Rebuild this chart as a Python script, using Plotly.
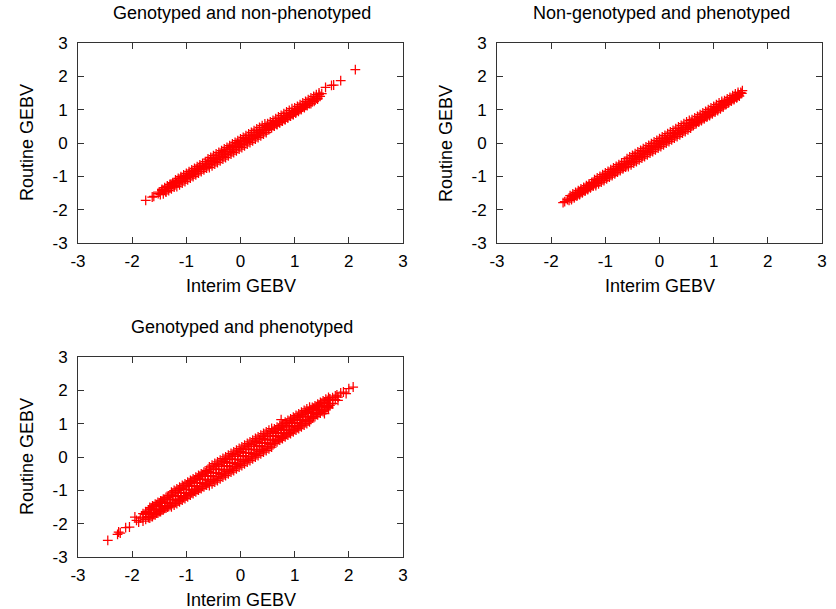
import plotly.graph_objects as go

# ---- data (Interim GEBV, Routine GEBV) ----
# Panel 1: genotyped and non-phenotyped
gnp_core = [
    (-1.75,-1.72),(-1.63,-1.62),(-1.6,-1.6),(-1.52,-1.52),(-1.5,-1.47),(-1.48,-1.55),(-1.45,-1.42),
    (-1.4,-1.38),(-1.38,-1.45),(-1.35,-1.3),(-1.33,-1.37),(-1.3,-1.25),(-1.28,-1.32),(-1.25,-1.22),
    (-1.22,-1.28),(-1.2,-1.15),(-1.18,-1.2),(-1.15,-1.12),(-1.12,-1.17),(-1.1,-1.05),(-1.08,-1.12),
    (-1.05,-1.02),(-1.02,-1.07),(-1.0,-0.97),(-0.98,-1.03),(-0.95,-0.92),(-0.93,-0.98),(-0.9,-0.87),
    (-0.88,-0.95),(-0.85,-0.82),(-0.83,-0.9),(-0.8,-0.78),(-0.78,-0.85),(-0.75,-0.72),(-0.73,-0.8),
    (-0.7,-0.66),(-0.68,-0.75),(-0.65,-0.62),(-0.63,-0.7),(-0.6,-0.56),(-0.58,-0.65),(-0.55,-0.52),
    (-0.53,-0.6),(-0.5,-0.46),(-0.48,-0.55),(-0.45,-0.42),(-0.43,-0.5),(-0.4,-0.36),(-0.38,-0.45),
    (-0.35,-0.3),(-0.33,-0.4),(-0.3,-0.26),(-0.28,-0.35),(-0.25,-0.2),(-0.23,-0.3),(-0.2,-0.15),
    (-0.18,-0.25),(-0.15,-0.1),(-0.13,-0.2),(-0.1,-0.06),(-0.08,-0.14),(-0.05,-0.01),(-0.03,-0.1),
    (0.0,0.04),(0.02,-0.05),(0.05,0.08),(0.07,0.0),(0.1,0.13),(0.12,0.05),(0.15,0.18),(0.17,0.1),
    (0.2,0.22),(0.22,0.14),(0.25,0.27),(0.27,0.19),(0.3,0.32),(0.32,0.24),(0.35,0.36),(0.37,0.29),
    (0.4,0.41),(0.42,0.33),(0.45,0.46),(0.47,0.38),(0.5,0.5),(0.52,0.43),(0.55,0.55),(0.57,0.48),
    (0.6,0.6),(0.62,0.52),(0.65,0.64),(0.67,0.57),(0.7,0.68),(0.72,0.62),(0.75,0.73),(0.77,0.66),
    (0.8,0.78),(0.82,0.71),(0.85,0.82),(0.87,0.76),(0.9,0.87),(0.92,0.81),(0.95,0.91),(0.97,0.86),
    (1.0,0.96),(1.02,0.9),(1.05,1.0),(1.07,0.95),(1.1,1.05),(1.12,1.0),(1.15,1.1),(1.18,1.06),
    (1.2,1.15),(1.23,1.12),(1.27,1.2),(1.3,1.18),(1.33,1.27),(1.36,1.25),(1.4,1.35),(1.42,1.32),
    (1.45,1.45),(1.47,1.4),(1.5,1.48),(1.57,1.67),(1.68,1.73),(1.72,1.74),(1.85,1.87),(2.12,2.2),
]
gnp_upper = [
    (-1.45,-1.39),(-1.4,-1.34),(-1.35,-1.29),(-1.3,-1.24),(-1.25,-1.19),(-1.2,-1.11),(-1.15,-1.06),
    (-1.1,-1.01),(-1.05,-0.96),(-1.0,-0.91),(-0.95,-0.86),(-0.9,-0.81),(-0.85,-0.76),(-0.8,-0.71),
    (-0.75,-0.66),(-0.7,-0.61),(-0.65,-0.56),(-0.6,-0.48),(-0.55,-0.43),(-0.5,-0.38),(-0.45,-0.33),
    (-0.4,-0.28),(-0.35,-0.23),(-0.3,-0.18),(-0.25,-0.13),(-0.2,-0.08),(-0.15,-0.03),(-0.1,0.02),
    (-0.05,0.07),(0.0,0.12),(0.05,0.17),(0.1,0.22),(0.15,0.27),(0.2,0.32),(0.25,0.37),(0.3,0.42),
    (0.35,0.47),(0.4,0.52),(0.45,0.57),(0.5,0.58),(0.55,0.63),(0.6,0.68),(0.65,0.73),(0.7,0.78),
    (0.75,0.83),(0.8,0.88),(0.85,0.93),(0.9,0.98),(0.95,1.03),(1.0,1.05),(1.05,1.1),(1.1,1.15),
    (1.15,1.2),(1.2,1.25),(1.25,1.3),(1.3,1.35),(1.35,1.4),(1.4,1.45),(1.45,1.5),
]
gnp_lower = [
    (-1.425,-1.525),(-1.375,-1.475),(-1.325,-1.425),(-1.275,-1.375),(-1.225,-1.325),(-1.175,-1.305),
    (-1.125,-1.255),(-1.075,-1.205),(-1.025,-1.155),(-0.975,-1.105),(-0.925,-1.055),(-0.875,-1.005),
    (-0.825,-0.955),(-0.775,-0.905),(-0.725,-0.855),(-0.675,-0.805),(-0.625,-0.755),(-0.575,-0.735),
    (-0.525,-0.685),(-0.475,-0.635),(-0.425,-0.585),(-0.375,-0.535),(-0.325,-0.485),(-0.275,-0.435),
    (-0.225,-0.385),(-0.175,-0.335),(-0.125,-0.285),(-0.075,-0.235),(-0.025,-0.185),(0.025,-0.135),
    (0.075,-0.085),(0.125,-0.035),(0.175,0.015),(0.225,0.065),(0.275,0.115),(0.325,0.165),
    (0.375,0.215),(0.425,0.265),(0.475,0.315),(0.525,0.405),(0.575,0.455),(0.625,0.505),
    (0.675,0.555),(0.725,0.605),(0.775,0.655),(0.825,0.705),(0.875,0.755),(0.925,0.805),
    (0.975,0.855),(1.025,0.935),(1.075,0.985),(1.125,1.035),(1.175,1.085),(1.225,1.135),
    (1.275,1.185),(1.325,1.235),(1.375,1.285),(1.425,1.335),
]

# Panel 2: non-genotyped and phenotyped
ngp_core = [
    (-1.78,-1.79),(-1.75,-1.76),(-1.7,-1.7),(-1.67,-1.72),(-1.65,-1.65),(-1.62,-1.66),(-1.6,-1.6),
    (-1.57,-1.61),(-1.55,-1.53),(-1.52,-1.56),(-1.5,-1.48),(-1.47,-1.52),(-1.45,-1.43),(-1.42,-1.47),
    (-1.4,-1.37),(-1.37,-1.42),(-1.35,-1.32),(-1.32,-1.37),(-1.3,-1.27),(-1.27,-1.32),(-1.25,-1.22),
    (-1.22,-1.27),(-1.2,-1.17),(-1.17,-1.22),(-1.15,-1.12),(-1.12,-1.17),(-1.1,-1.06),(-1.07,-1.12),
    (-1.05,-1.01),(-1.02,-1.07),(-1.0,-0.96),(-0.97,-1.02),(-0.95,-0.91),(-0.92,-0.98),(-0.9,-0.86),
    (-0.87,-0.93),(-0.85,-0.81),(-0.82,-0.88),(-0.8,-0.76),(-0.77,-0.83),(-0.75,-0.71),(-0.72,-0.78),
    (-0.7,-0.66),(-0.67,-0.74),(-0.65,-0.61),(-0.62,-0.69),(-0.6,-0.56),(-0.57,-0.64),(-0.55,-0.51),
    (-0.52,-0.59),(-0.5,-0.46),(-0.47,-0.54),(-0.45,-0.41),(-0.42,-0.49),(-0.4,-0.36),(-0.37,-0.44),
    (-0.35,-0.31),(-0.32,-0.39),(-0.3,-0.26),(-0.27,-0.34),(-0.25,-0.21),(-0.22,-0.29),(-0.2,-0.16),
    (-0.17,-0.24),(-0.15,-0.11),(-0.12,-0.19),(-0.1,-0.06),(-0.07,-0.14),(-0.05,-0.01),(-0.02,-0.09),
    (0.0,0.04),(0.03,-0.04),(0.05,0.09),(0.08,0.01),(0.1,0.13),(0.13,0.06),(0.15,0.18),(0.18,0.11),
    (0.2,0.23),(0.23,0.16),(0.25,0.28),(0.28,0.21),(0.3,0.32),(0.33,0.26),(0.35,0.37),(0.38,0.31),
    (0.4,0.42),(0.43,0.36),(0.45,0.47),(0.48,0.41),(0.5,0.52),(0.53,0.46),(0.55,0.57),(0.58,0.51),
    (0.6,0.61),(0.63,0.56),(0.65,0.66),(0.68,0.61),(0.7,0.71),(0.73,0.66),(0.75,0.76),(0.78,0.71),
    (0.8,0.81),(0.83,0.76),(0.85,0.86),(0.88,0.81),(0.9,0.91),(0.93,0.86),(0.95,0.96),(0.98,0.92),
    (1.0,1.01),(1.03,0.97),(1.05,1.06),(1.08,1.02),(1.1,1.11),(1.13,1.07),(1.15,1.16),(1.18,1.12),
    (1.2,1.21),(1.23,1.17),(1.25,1.26),(1.28,1.23),(1.3,1.31),(1.33,1.28),(1.35,1.36),(1.38,1.33),
    (1.4,1.41),(1.43,1.38),(1.45,1.46),(1.47,1.44),(1.5,1.52),(1.52,1.49),(1.53,1.57),
]
ngp_upper = [
    (-1.65,-1.58),(-1.6,-1.53),(-1.55,-1.48),(-1.5,-1.43),(-1.45,-1.38),(-1.4,-1.33),(-1.35,-1.28),
    (-1.3,-1.23),(-1.25,-1.18),(-1.2,-1.1),(-1.15,-1.05),(-1.1,-1.0),(-1.05,-0.95),(-1.0,-0.9),
    (-0.95,-0.85),(-0.9,-0.8),(-0.85,-0.75),(-0.8,-0.7),(-0.75,-0.65),(-0.7,-0.6),(-0.65,-0.55),
    (-0.6,-0.47),(-0.55,-0.42),(-0.5,-0.37),(-0.45,-0.32),(-0.4,-0.27),(-0.35,-0.22),(-0.3,-0.17),
    (-0.25,-0.12),(-0.2,-0.07),(-0.15,-0.02),(-0.1,0.03),(-0.05,0.08),(0.0,0.13),(0.05,0.18),
    (0.1,0.23),(0.15,0.28),(0.2,0.33),(0.25,0.38),(0.3,0.43),(0.35,0.48),(0.4,0.53),(0.45,0.58),
    (0.5,0.63),(0.55,0.68),(0.6,0.7),(0.65,0.75),(0.7,0.8),(0.75,0.85),(0.8,0.9),(0.85,0.95),
    (0.9,1.0),(0.95,1.05),(1.0,1.1),(1.05,1.15),(1.1,1.2),(1.15,1.25),(1.2,1.27),(1.25,1.32),
    (1.3,1.37),(1.35,1.42),(1.4,1.47),(1.45,1.52),
]
ngp_lower = [
    (-1.625,-1.695),(-1.575,-1.645),(-1.525,-1.595),(-1.475,-1.545),(-1.425,-1.495),(-1.375,-1.445),
    (-1.325,-1.395),(-1.275,-1.345),(-1.225,-1.295),(-1.175,-1.275),(-1.125,-1.225),(-1.075,-1.175),
    (-1.025,-1.125),(-0.975,-1.075),(-0.925,-1.025),(-0.875,-0.975),(-0.825,-0.925),(-0.775,-0.875),
    (-0.725,-0.825),(-0.675,-0.775),(-0.625,-0.725),(-0.575,-0.705),(-0.525,-0.655),(-0.475,-0.605),
    (-0.425,-0.555),(-0.375,-0.505),(-0.325,-0.455),(-0.275,-0.405),(-0.225,-0.355),(-0.175,-0.305),
    (-0.125,-0.255),(-0.075,-0.205),(-0.025,-0.155),(0.025,-0.105),(0.075,-0.055),(0.125,-0.005),
    (0.175,0.045),(0.225,0.095),(0.275,0.145),(0.325,0.195),(0.375,0.245),(0.425,0.295),
    (0.475,0.345),(0.525,0.395),(0.575,0.445),(0.625,0.525),(0.675,0.575),(0.725,0.625),
    (0.775,0.675),(0.825,0.725),(0.875,0.775),(0.925,0.825),(0.975,0.875),(1.025,0.925),
    (1.075,0.975),(1.125,1.025),(1.175,1.075),(1.225,1.155),(1.275,1.205),(1.325,1.255),
    (1.375,1.305),(1.425,1.355),(1.475,1.405),
]

# Panel 3: genotyped and phenotyped
gp_core = [
    (-2.45,-2.5),(-2.27,-2.32),(-2.25,-2.25),(-2.22,-2.28),(-2.12,-2.12),(-2.05,-2.1),(-1.95,-1.8),
    (-1.92,-1.9),(-1.88,-1.95),(0.75,1.12),(1.55,1.3),(1.9,1.95),(2.0,2.05),(2.08,2.1),(1.95,1.9),
    (-1.85,-1.83),(-1.8,-1.8),(-1.75,-1.73),(-1.7,-1.69),(-1.65,-1.66),(-1.6,-1.58),(-1.55,-1.56),
    (-1.5,-1.48),(-1.45,-1.46),(-1.4,-1.38),(-1.35,-1.36),(-1.3,-1.28),(-1.25,-1.26),(-1.2,-1.18),
    (-1.15,-1.16),(-1.1,-1.08),(-1.05,-1.06),(-1.0,-0.98),(-0.95,-0.96),(-0.9,-0.88),(-0.85,-0.86),
    (-0.8,-0.78),(-0.75,-0.76),(-0.7,-0.68),(-0.65,-0.66),(-0.6,-0.58),(-0.55,-0.56),(-0.5,-0.48),
    (-0.45,-0.46),(-0.4,-0.38),(-0.35,-0.36),(-0.3,-0.28),(-0.25,-0.26),(-0.2,-0.18),(-0.15,-0.16),
    (-0.1,-0.08),(-0.05,-0.06),(0.0,0.02),(0.05,0.04),(0.1,0.12),(0.15,0.14),(0.2,0.22),(0.25,0.24),
    (0.3,0.31),(0.35,0.34),(0.4,0.41),(0.45,0.44),(0.5,0.51),(0.55,0.54),(0.6,0.61),(0.65,0.64),
    (0.7,0.7),(0.75,0.74),(0.8,0.8),(0.85,0.84),(0.9,0.9),(0.95,0.94),(1.0,1.0),(1.05,1.04),
    (1.1,1.1),(1.15,1.13),(1.2,1.2),(1.25,1.23),(1.3,1.3),(1.35,1.33),(1.4,1.4),(1.45,1.43),
    (1.5,1.5),(1.55,1.52),(1.6,1.6),(1.65,1.6),(1.7,1.7),(1.75,1.72),(1.8,1.8),
]
gp_upper0 = [
    (-1.75,-1.67),(-1.65,-1.57),(-1.55,-1.47),(-1.45,-1.37),(-1.35,-1.27),(-1.25,-1.17),(-1.15,-1.07),
    (-1.05,-0.97),(-0.95,-0.87),(-0.85,-0.77),(-0.75,-0.67),(-0.65,-0.57),(-0.55,-0.47),(-0.45,-0.37),
    (-0.35,-0.27),(-0.25,-0.17),(-0.15,-0.07),(-0.05,0.03),(0.05,0.13),(0.15,0.23),(0.25,0.33),
    (0.35,0.43),(0.45,0.53),(0.55,0.63),(0.65,0.73),(0.75,0.83),(0.85,0.93),(0.95,1.03),(1.05,1.13),
    (1.15,1.23),(1.25,1.33),(1.35,1.43),(1.45,1.53),(1.55,1.63),(1.65,1.73),(1.75,1.83),
]
gp_upper1 = [
    (-1.8,-1.7),(-1.75,-1.64),(-1.7,-1.59),(-1.65,-1.53),(-1.6,-1.48),(-1.55,-1.43),(-1.5,-1.38),
    (-1.45,-1.32),(-1.4,-1.27),(-1.35,-1.22),(-1.3,-1.16),(-1.25,-1.11),(-1.2,-1.06),(-1.15,-1.0),
    (-1.1,-0.95),(-1.05,-0.9),(-1.0,-0.85),(-0.95,-0.8),(-0.9,-0.74),(-0.85,-0.69),(-0.8,-0.64),
    (-0.75,-0.59),(-0.7,-0.53),(-0.65,-0.48),(-0.6,-0.43),(-0.55,-0.38),(-0.5,-0.33),(-0.45,-0.28),
    (-0.4,-0.23),(-0.35,-0.18),(-0.3,-0.13),(-0.25,-0.08),(-0.2,-0.03),(-0.15,0.02),(-0.1,0.07),
    (-0.05,0.12),(0.0,0.17),(0.05,0.22),(0.1,0.27),(0.15,0.32),(0.2,0.37),(0.25,0.42),(0.3,0.47),
    (0.35,0.51),(0.4,0.56),(0.45,0.61),(0.5,0.66),(0.55,0.71),(0.6,0.76),(0.65,0.81),(0.7,0.85),
    (0.75,0.9),(0.8,0.95),(0.85,1.0),(0.9,1.04),(0.95,1.09),(1.0,1.14),(1.05,1.18),(1.1,1.23),
    (1.15,1.28),(1.2,1.32),(1.25,1.37),(1.3,1.42),(1.35,1.46),(1.4,1.51),(1.45,1.55),(1.5,1.6),
    (1.55,1.65),(1.6,1.7),(1.65,1.74),(1.7,1.78),(1.78,1.86),(1.85,1.92),
]
gp_upper2 = [
    (-1.675,-1.515),(-1.625,-1.465),(-1.575,-1.415),(-1.525,-1.365),(-1.475,-1.315),(-1.425,-1.265),
    (-1.375,-1.215),(-1.325,-1.165),(-1.275,-1.055),(-1.225,-1.005),(-1.175,-0.955),(-1.125,-0.905),
    (-1.075,-0.855),(-1.025,-0.805),(-0.975,-0.755),(-0.925,-0.705),(-0.875,-0.655),(-0.825,-0.605),
    (-0.775,-0.555),(-0.725,-0.505),(-0.675,-0.455),(-0.625,-0.405),(-0.575,-0.295),(-0.525,-0.245),
    (-0.475,-0.195),(-0.425,-0.145),(-0.375,-0.095),(-0.325,-0.045),(-0.275,0.005),(-0.225,0.055),
    (-0.175,0.105),(-0.125,0.155),(-0.075,0.205),(-0.025,0.255),(0.025,0.305),(0.075,0.355),
    (0.125,0.405),(0.175,0.455),(0.225,0.505),(0.275,0.555),(0.325,0.605),(0.375,0.655),
    (0.425,0.705),(0.475,0.755),(0.525,0.805),(0.575,0.855),(0.625,0.845),(0.675,0.895),
    (0.725,0.945),(0.775,0.995),(0.825,1.045),(0.875,1.095),(0.925,1.145),(0.975,1.195),
    (1.025,1.245),(1.075,1.295),(1.125,1.345),(1.175,1.395),(1.225,1.445),(1.275,1.495),
    (1.325,1.485),(1.375,1.535),(1.425,1.585),(1.475,1.635),(1.525,1.685),(1.575,1.735),(1.625,1.785),
]
gp_lower0 = [
    (-1.7,-1.79),(-1.6,-1.69),(-1.5,-1.59),(-1.4,-1.49),(-1.3,-1.39),(-1.2,-1.29),(-1.1,-1.19),
    (-1.0,-1.09),(-0.9,-0.99),(-0.8,-0.89),(-0.7,-0.79),(-0.6,-0.69),(-0.5,-0.59),(-0.4,-0.49),
    (-0.3,-0.39),(-0.2,-0.29),(-0.1,-0.19),(0.0,-0.09),(0.1,0.01),(0.2,0.11),(0.3,0.21),(0.4,0.31),
    (0.5,0.41),(0.6,0.51),(0.7,0.61),(0.8,0.71),(0.9,0.81),(1.0,0.91),(1.1,1.01),(1.2,1.11),
    (1.3,1.21),(1.4,1.31),(1.5,1.41),(1.6,1.51),(1.7,1.61),
]
gp_lower1 = [
    (-1.8,-1.92),(-1.75,-1.87),(-1.7,-1.82),(-1.65,-1.78),(-1.6,-1.73),(-1.55,-1.68),(-1.5,-1.64),
    (-1.45,-1.59),(-1.4,-1.54),(-1.35,-1.5),(-1.3,-1.45),(-1.25,-1.4),(-1.2,-1.35),(-1.15,-1.31),
    (-1.1,-1.26),(-1.05,-1.21),(-1.0,-1.16),(-0.95,-1.12),(-0.9,-1.07),(-0.85,-1.02),(-0.8,-0.97),
    (-0.75,-0.93),(-0.7,-0.88),(-0.65,-0.83),(-0.6,-0.78),(-0.55,-0.73),(-0.5,-0.68),(-0.45,-0.63),
    (-0.4,-0.58),(-0.35,-0.53),(-0.3,-0.48),(-0.25,-0.43),(-0.2,-0.38),(-0.15,-0.33),(-0.1,-0.28),
    (-0.05,-0.23),(0.0,-0.18),(0.05,-0.13),(0.1,-0.08),(0.15,-0.03),(0.2,0.02),(0.25,0.07),
    (0.3,0.12),(0.35,0.17),(0.4,0.22),(0.45,0.27),(0.5,0.32),(0.55,0.37),(0.6,0.42),(0.65,0.48),
    (0.7,0.53),(0.75,0.58),(0.8,0.63),(0.85,0.69),(0.9,0.74),(0.95,0.79),(1.0,0.84),(1.05,0.9),
    (1.1,0.95),(1.15,1.0),(1.2,1.06),(1.25,1.11),(1.3,1.17),(1.35,1.22),(1.4,1.28),(1.45,1.33),
    (1.5,1.39),(1.6,1.49),(1.65,1.55),(1.7,1.6),(1.8,1.7),
]
gp_lower2 = [
    (-1.675,-1.835),(-1.625,-1.785),(-1.575,-1.735),(-1.525,-1.685),(-1.475,-1.635),(-1.425,-1.585),
    (-1.375,-1.535),(-1.325,-1.485),(-1.275,-1.495),(-1.225,-1.445),(-1.175,-1.395),(-1.125,-1.345),
    (-1.075,-1.295),(-1.025,-1.245),(-0.975,-1.195),(-0.925,-1.145),(-0.875,-1.095),(-0.825,-1.045),
    (-0.775,-0.995),(-0.725,-0.945),(-0.675,-0.895),(-0.625,-0.845),(-0.575,-0.855),(-0.525,-0.805),
    (-0.475,-0.755),(-0.425,-0.705),(-0.375,-0.655),(-0.325,-0.605),(-0.275,-0.555),(-0.225,-0.505),
    (-0.175,-0.455),(-0.125,-0.405),(-0.075,-0.355),(-0.025,-0.305),(0.025,-0.255),(0.075,-0.205),
    (0.125,-0.155),(0.175,-0.105),(0.225,-0.055),(0.275,-0.005),(0.325,0.045),(0.375,0.095),
    (0.425,0.145),(0.475,0.195),(0.525,0.245),(0.575,0.295),(0.625,0.405),(0.675,0.455),
    (0.725,0.505),(0.775,0.555),(0.825,0.605),(0.875,0.655),(0.925,0.705),(0.975,0.755),
    (1.025,0.805),(1.075,0.855),(1.125,0.905),(1.175,0.955),(1.225,1.005),(1.275,1.055),
    (1.325,1.165),(1.375,1.215),(1.425,1.265),(1.475,1.315),(1.525,1.365),(1.575,1.415),(1.625,1.465),
]

gnp_points = gnp_core + gnp_upper + gnp_lower
ngp_points = ngp_core + ngp_upper + ngp_lower
gp_points = gp_core + gp_upper0 + gp_upper1 + gp_upper2 + gp_lower0 + gp_lower1 + gp_lower2

gnp_x = [p[0] for p in gnp_points]; gnp_y = [p[1] for p in gnp_points]
ngp_x = [p[0] for p in ngp_points]; ngp_y = [p[1] for p in ngp_points]
gp_x = [p[0] for p in gp_points]; gp_y = [p[1] for p in gp_points]

titles = ["Genotyped and non-phenotyped", "Non-genotyped and phenotyped", "Genotyped and phenotyped"]
x_label = "Interim GEBV"
y_label = "Routine GEBV"
tick_vals = [-3, -2, -1, 0, 1, 2, 3]
tick_text = ["-3", "-2", "-1", "0", "1", "2", "3"]

W, H = 836, 609
FONT = "Liberation Sans, Arial, Helvetica, sans-serif"

# panel boxes in pixels: (left, right, top, bottom)
boxes = [(78, 403, 43, 243), (497, 822, 43, 243), (78, 403, 357, 557)]
series = [(gnp_x, gnp_y), (ngp_x, ngp_y), (gp_x, gp_y)]

fig = go.Figure()
layout = dict(
    template="none",
    width=W, height=H, margin=dict(l=0, r=0, t=0, b=0, autoexpand=False),
    paper_bgcolor="white", plot_bgcolor="white", showlegend=False,
    font=dict(family=FONT, color="black", size=17),
)
annotations = []
for i, ((l, r, t, b), (xs, ys)) in enumerate(zip(boxes, series)):
    sfx = "" if i == 0 else str(i + 1)
    fig.add_trace(go.Scatter(
        x=xs, y=ys, mode="markers", xaxis="x" + sfx, yaxis="y" + sfx,
        marker=dict(symbol="cross-thin-open", size=7, color="#ff0000",
                    line=dict(color="#ff0000", width=1.25)),
        hoverinfo="skip",
    ))
    ax = dict(range=[-3, 3], tickvals=tick_vals, ticktext=tick_text, ticks="inside", ticklen=6,
              tickcolor="#333333", showline=True, linecolor="#333333", linewidth=1,
              mirror="ticks", showgrid=False, zeroline=False, automargin=False,
              tickfont=dict(family=FONT, size=17, color="black"))
    layout["xaxis" + sfx] = dict(ax, domain=[l / W, r / W], anchor="y" + sfx,
                                 ticklabelstandoff=3)
    layout["yaxis" + sfx] = dict(ax, domain=[1 - b / H, 1 - t / H], anchor="x" + sfx,
                                 ticklabelstandoff=6)
    cx = (l + r) / 2
    annotations.append(dict(text=titles[i], x=(cx + 2) / W, y=1 - (t - 30) / H,
                            xref="paper", yref="paper", showarrow=False,
                            xanchor="center", yanchor="middle",
                            font=dict(family=FONT, size=18, color="black")))
    annotations.append(dict(text=x_label, x=cx / W, y=1 - (b + 43) / H,
                            xref="paper", yref="paper", showarrow=False,
                            xanchor="center", yanchor="middle",
                            font=dict(family=FONT, size=18, color="black")))
    annotations.append(dict(text=y_label, x=(l - 51) / W, y=1 - ((t + b) / 2) / H,
                            xref="paper", yref="paper", showarrow=False, textangle=-90,
                            xanchor="center", yanchor="middle",
                            font=dict(family=FONT, size=18, color="black")))
layout["annotations"] = annotations
fig.update_layout(**layout)
fig.write_html("out.html", config={"displayModeBar": False, "staticPlot": True},
               post_script="document.body.style.margin='0';document.body.style.overflow='hidden';")
